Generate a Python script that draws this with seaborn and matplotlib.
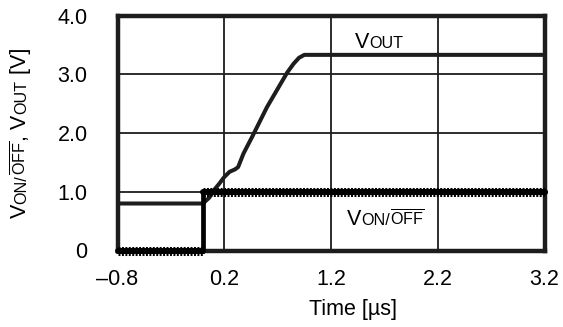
import matplotlib
matplotlib.use("Agg")
import matplotlib.pyplot as plt
import matplotlib.transforms as mtransforms
import seaborn as sns

# ---- data ----
t_out = [-0.8, 0.0, 0.06, 0.10, 0.15, 0.20, 0.25, 0.30, 0.33, 0.38, 0.46, 0.60, 0.79, 0.85, 0.90, 0.95, 3.2]
v_out = [0.8, 0.8, 0.90, 1.02, 1.13, 1.25, 1.34, 1.38, 1.42, 1.65, 1.93, 2.44, 3.03, 3.18, 3.28, 3.33, 3.33]

t_on = [-0.8, 0.0, 0.0, 3.2]
v_on = [0.0, 0.0, 1.0, 1.0]

x_ticks = [-0.8, 0.2, 1.2, 2.2, 3.2]
x_tick_labels = ["\u20130.8", "0.2", "1.2", "2.2", "3.2"]
y_ticks = [0, 1, 2, 3, 4]
y_tick_labels = ["0", "1.0", "2.0", "3.0", "4.0"]

# ---- style ----
sns.set_theme(style="white")
plt.rcParams["font.family"] = ["Liberation Sans", "DejaVu Sans"]
plt.rcParams["mathtext.fontset"] = "custom"
plt.rcParams["mathtext.rm"] = "Liberation Sans"
plt.rcParams["mathtext.it"] = "Liberation Sans:italic"
plt.rcParams["mathtext.bf"] = "Liberation Sans:bold"

INK = "#1e1c1d"
BIG = 15.5
SMALL = 11.6

fig = plt.figure(figsize=(5.63, 3.27), dpi=100)
W, H = 563, 327
ax = fig.add_axes([117.5 / W, 1 - 250.5 / H, (544.5 - 117.5) / W, (250.5 - 15.5) / H])

ax.set_xlim(-0.8, 3.2)
ax.set_ylim(0, 4.0)
ax.set_xticks(x_ticks)
ax.set_xticklabels(x_tick_labels)
ax.set_yticks(y_ticks)
ax.set_yticklabels(y_tick_labels)
ax.tick_params(axis="both", length=0, labelsize=BIG, colors="black")
ax.tick_params(axis="y", pad=21.5)
ax.tick_params(axis="x", pad=13)
ax.grid(True, color=INK, linewidth=1.3)
ax.set_axisbelow(True)
for sp in ax.spines.values():
    sp.set_color(INK)
    sp.set_linewidth(3.2)
    sp.set_visible(True)

# VOUT line
sns.lineplot(x=t_out, y=v_out, ax=ax, color=INK, linewidth=2.9, sort=False,
             estimator=None, legend=False, zorder=4)
# VON/OFF line: solid core plus rippled texture on the flat parts
sns.lineplot(x=t_on, y=v_on, ax=ax, color="black", linewidth=3.4, sort=False,
             estimator=None, legend=False, zorder=5, clip_on=False)
for a, b in [(0, 2), (2, 4)]:
    sns.lineplot(x=t_on[a:b], y=v_on[a:b], ax=ax, color="black", linewidth=4.3, sort=False,
                 estimator=None, legend=False, zorder=5, clip_on=False)
    sns.lineplot(x=t_on[a:b], y=v_on[a:b], ax=ax, color="black", linewidth=6.5, sort=False,
                 estimator=None, legend=False, zorder=5, clip_on=False,
                 linestyle=(0, (0.22, 0.16)), dash_capstyle="butt")

ax.set_xlabel("")
ax.set_ylabel("")

fig.canvas.draw()
renderer = fig.canvas.get_renderer()


def place_runs(x, y, runs, base_transform, rotation=0):
    off = 0.0
    for s, size in runs:
        if rotation == 0:
            tr = mtransforms.offset_copy(base_transform, fig=fig, x=off, y=0, units="dots")
        else:
            tr = mtransforms.offset_copy(base_transform, fig=fig, x=0, y=off, units="dots")
        t = fig.text(x, y, s, fontsize=size, rotation=rotation, rotation_mode="anchor",
                     ha="left", va="baseline", transform=tr, color="black")
        bb = t.get_window_extent(renderer)
        off += bb.width if rotation == 0 else bb.height


OFF = r"$\overline{\mathrm{OFF}}$"

# in-plot labels
place_runs(1.425, 3.447, [("V", BIG), ("OUT", SMALL)], ax.transData)
place_runs(1.35, 0.434, [("V", BIG), ("ON/", SMALL), (OFF, SMALL)], ax.transData)

# y-axis label (rotated)
place_runs(26 / W, 1 - 218 / H,
           [("V", BIG), ("ON/", SMALL), (OFF, SMALL), (", V", BIG), ("OUT", SMALL), (" [V]", BIG)],
           fig.transFigure, rotation=90)

# x-axis label
fig.text(353 / W, 1 - 299 / H, "Time [\u00b5s]", fontsize=BIG, ha="center", va="top", color="black")

fig.savefig("out.png", dpi=100)
